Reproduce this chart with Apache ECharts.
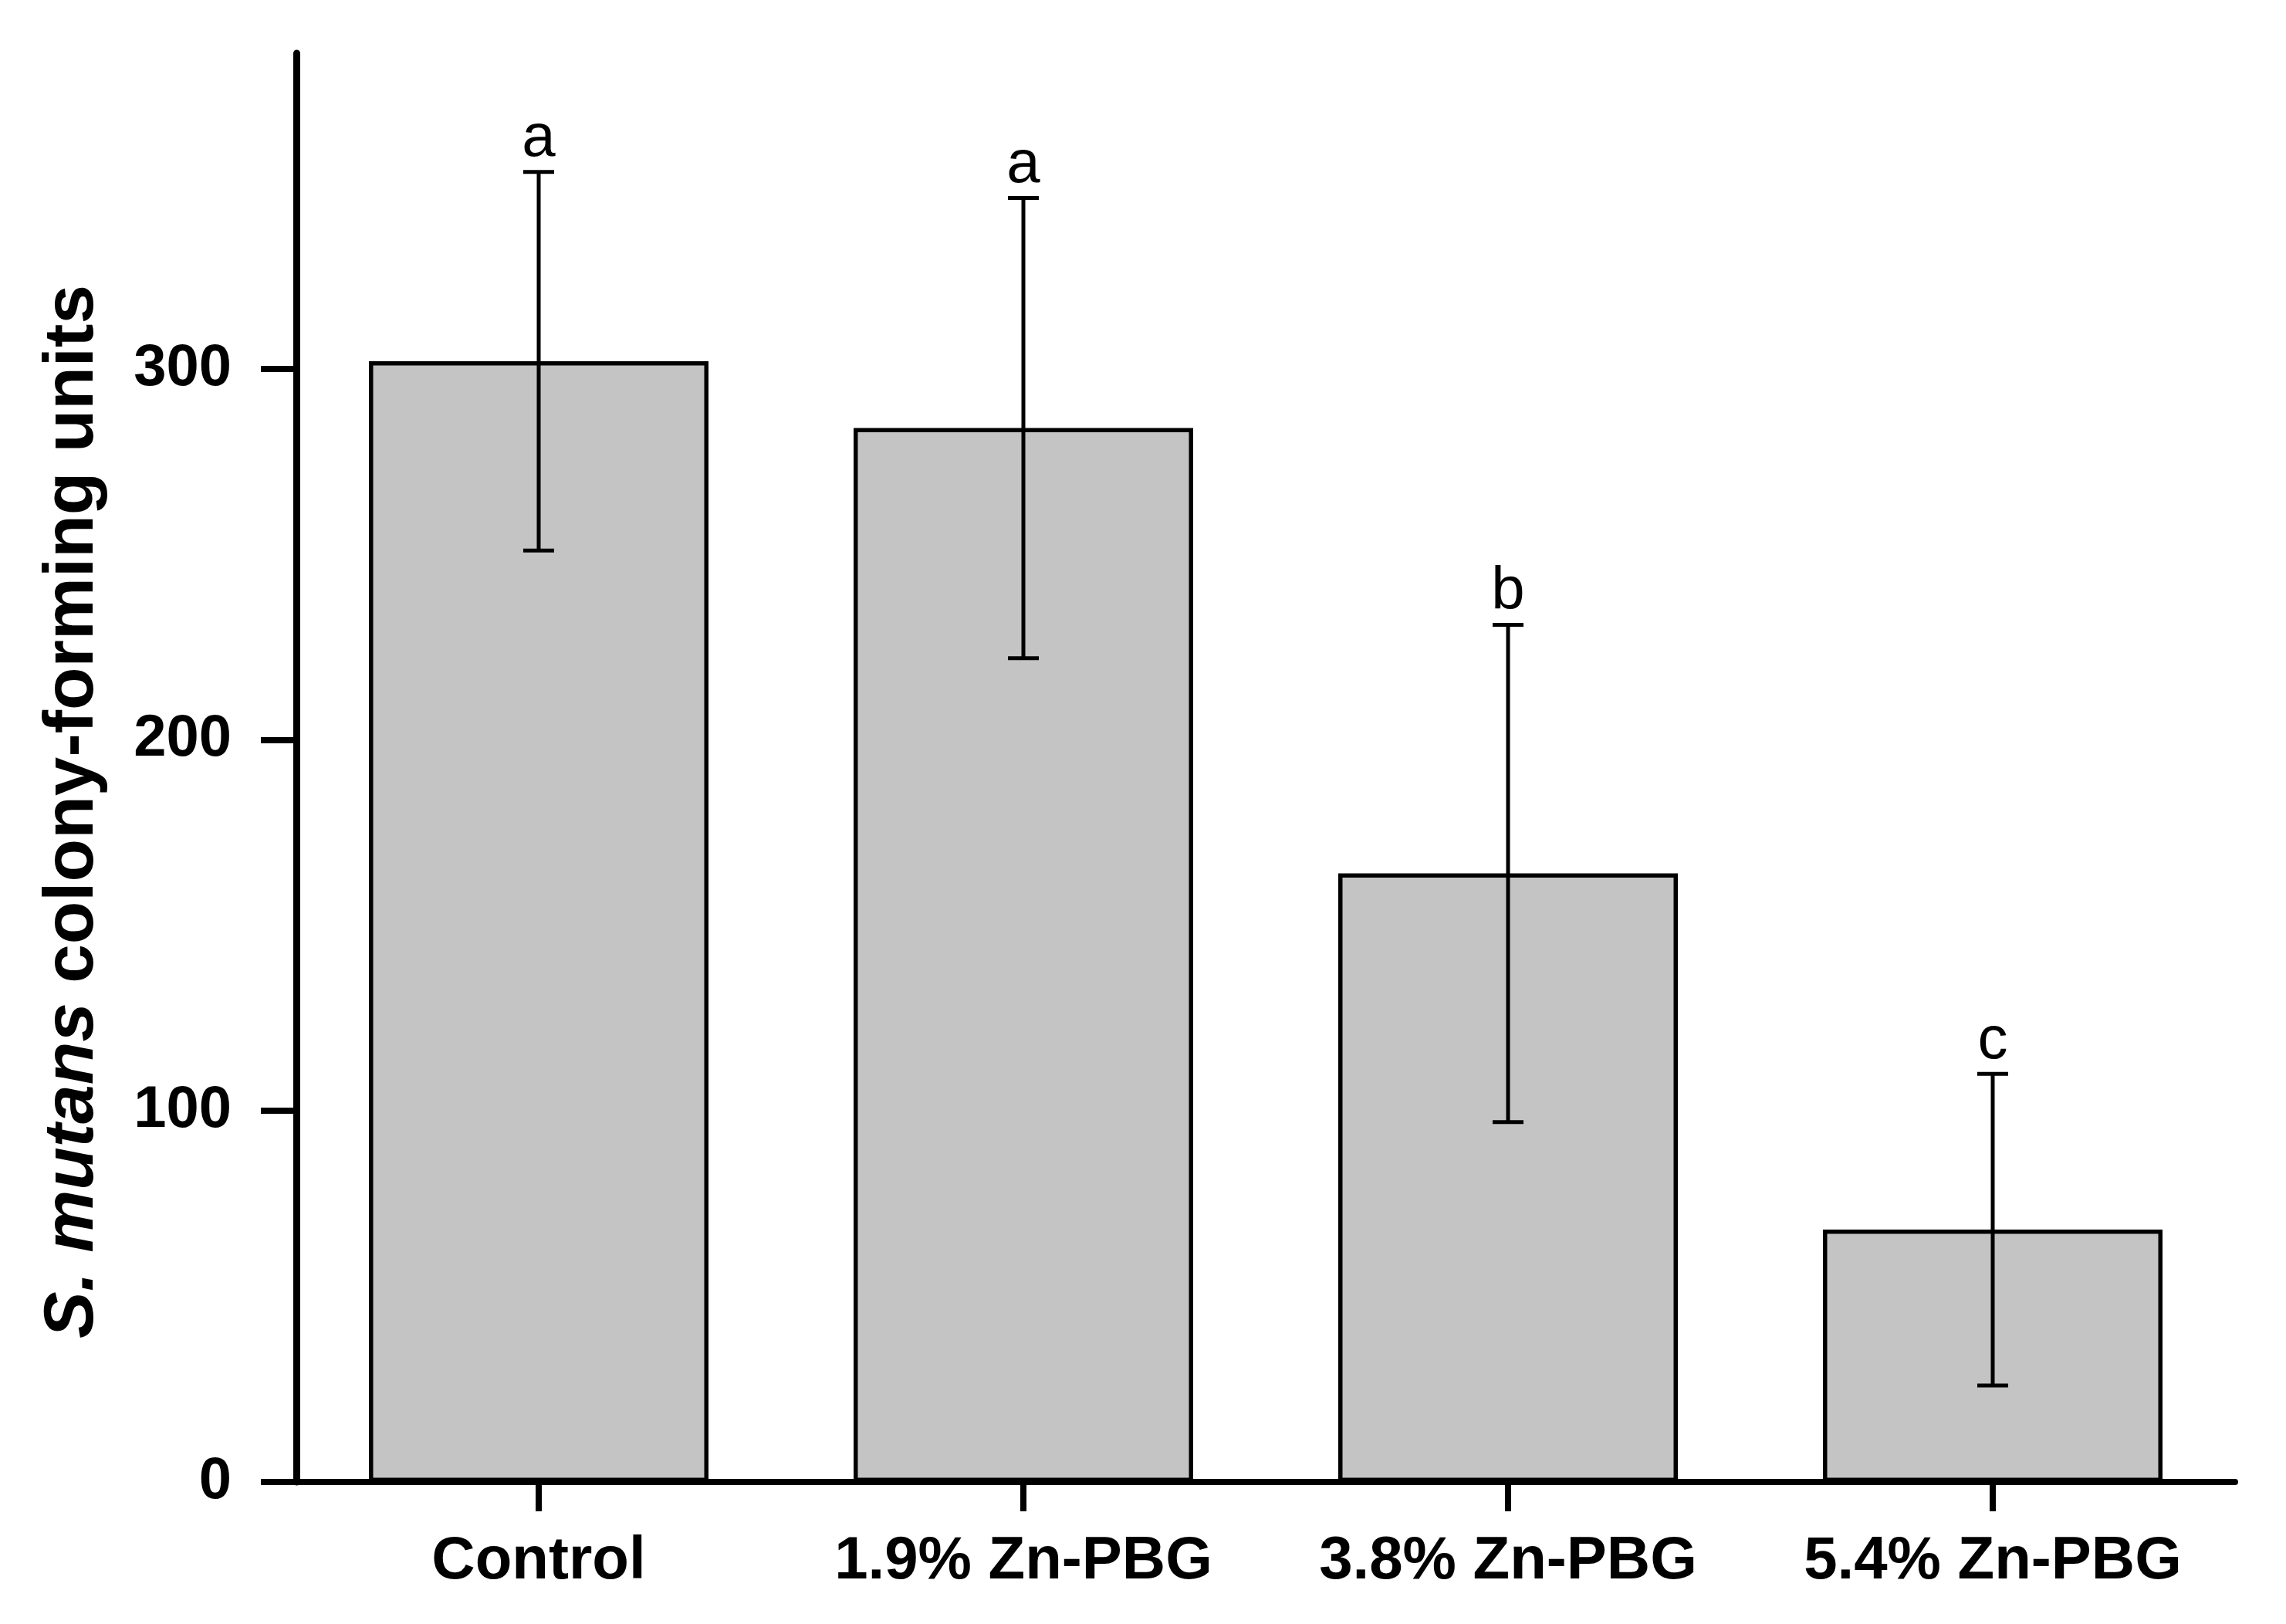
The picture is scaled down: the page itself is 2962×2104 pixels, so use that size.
<!DOCTYPE html>
<html>
<head>
<meta charset="utf-8">
<script src="https://cdn.jsdelivr.net/npm/echarts@6/dist/echarts.min.js"></script>
<style>
html,body{margin:0;padding:0;background:#fff;}
#chart{width:2962px;height:2104px;}
</style>
</head>
<body>
<div id="chart"></div>
<script>
const categories = ['Control', '1.9% Zn-PBG', '3.8% Zn-PBG', '5.4% Zn-PBG'];
const means = [302, 284, 164, 68];
const sds = [51, 62, 67, 42];
const letters = ['a', 'a', 'b', 'c'];
const yTicks = [0, 100, 200, 300];

const FONT = '"Liberation Sans", Arial, sans-serif';
const errData = categories.map((c, i) => [i, means[i] - sds[i], means[i] + sds[i], letters[i]]);

const chart = echarts.init(document.getElementById('chart'));
chart.setOption({
  backgroundColor: '#ffffff',
  animation: false,
  grid: { left: 384, right: 66, top: 69, bottom: 184, containLabel: false, outerBoundsMode: 'none' },
  xAxis: {
    type: 'category',
    data: categories,
    boundaryGap: true,
    axisLine: { show: true, lineStyle: { color: '#000', width: 8 } },
    axisTick: { show: true, interval: 0, alignWithLabel: true, length: 38, lineStyle: { color: '#000', width: 8 } },
    axisLabel: { interval: 0, margin: 64, fontSize: 78, fontWeight: 'bold', color: '#000', fontFamily: FONT },
    splitLine: { show: false }
  },
  yAxis: {
    type: 'value',
    min: 0,
    max: 385,
    interval: 100,
    name: '{it|S. mutans} colony-forming units',
    nameLocation: 'middle',
    nameRotate: 90,
    nameGap: 244,
    nameTextStyle: {
      fontSize: 91, fontWeight: 'bold', color: '#000', fontFamily: FONT,
      padding: [0, 114, 0, 0],
      rich: { it: { fontSize: 91, fontWeight: 'bold', fontStyle: 'italic', color: '#000', fontFamily: FONT } }
    },
    axisLine: { show: true, lineStyle: { color: '#000', width: 9 } },
    axisTick: { show: true, length: 46, customValues: yTicks, lineStyle: { color: '#000', width: 8 } },
    axisLabel: { margin: 84, fontSize: 76, fontWeight: 'bold', color: '#000', fontFamily: FONT, customValues: yTicks },
    splitLine: { show: false }
  },
  series: [
    {
      type: 'bar',
      data: means,
      barWidth: 440,
      itemStyle: { color: '#c4c4c4', borderColor: '#000', borderWidth: 5.5 },
      z: 2
    },
    {
      type: 'custom',
      data: errData,
      z: 5,
      renderItem: function (params, api) {
        const xi = api.value(0);
        const lo = api.coord([xi, api.value(1)]);
        const hi = api.coord([xi, api.value(2)]);
        const cap = 20;
        const st = { stroke: '#000', lineWidth: 5 };
        return {
          type: 'group',
          children: [
            { type: 'line', shape: { x1: lo[0], y1: lo[1], x2: hi[0], y2: hi[1] }, style: st },
            { type: 'line', shape: { x1: hi[0] - cap, y1: hi[1], x2: hi[0] + cap, y2: hi[1] }, style: st },
            { type: 'line', shape: { x1: lo[0] - cap, y1: lo[1], x2: lo[0] + cap, y2: lo[1] }, style: st },
            { type: 'text', style: { text: api.value(3), x: hi[0], y: hi[1] - 3, align: 'center', verticalAlign: 'bottom', fontSize: 78, fontFamily: FONT, fill: '#000' } }
          ]
        };
      }
    }
  ]
});
</script>
</body>
</html>
